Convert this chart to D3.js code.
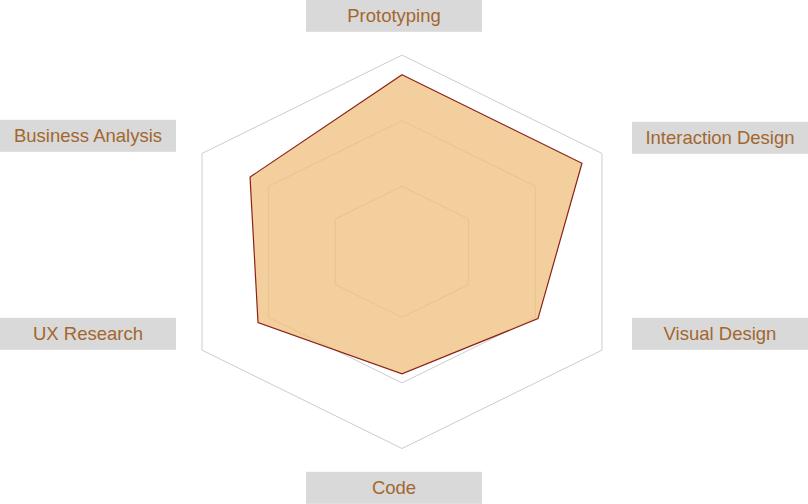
<!DOCTYPE html>
<html>
<head>
<meta charset="utf-8">
<script src="https://cdn.jsdelivr.net/npm/d3@7/dist/d3.min.js"></script>
<style>
  html, body { margin: 0; padding: 0; background: #fff; }
  svg { display: block; }
</style>
</head>
<body>
<svg id="chart" width="808" height="504"></svg>
<script>
// ---- data ----
const categories = ["Prototyping", "Interaction Design", "Visual Design", "Code", "UX Research", "Business Analysis"];
const values = [90, 90, 68, 62, 72, 76];
const maxValue = 100;
const ringLevels = [1/3, 2/3, 1];

// ---- layout ----
const W = 808, H = 504;
const cx = 402, cy = 251.8;
const ry = 196.7, rx = 230.9;
const svg = d3.select("#chart");

const r = d3.scaleLinear().domain([0, maxValue]).range([0, 1]);
const angle = d3.scaleLinear().domain([0, categories.length]).range([0, 2 * Math.PI]);

function pt(i, frac) {
  const a = angle(i);
  return [cx + rx * frac * Math.sin(a), cy - ry * frac * Math.cos(a)];
}
const line = d3.line().curve(d3.curveLinearClosed);

// grid rings
svg.append("g").selectAll("path").data(ringLevels).join("path")
  .attr("d", lv => line(categories.map((c, i) => pt(i, lv))))
  .attr("fill", "none")
  .attr("stroke", "#cccccc")
  .attr("stroke-width", 1);

// data polygon
svg.append("path")
  .attr("d", line(values.map((v, i) => pt(i, r(v)))))
  .attr("fill", "#f0c080")
  .attr("fill-opacity", 0.76)
  .attr("stroke", "#8b2218")
  .attr("stroke-width", 1.2)
  .attr("stroke-linejoin", "miter");

// labels
const boxW = 176, boxH = 32;
const lab = svg.append("g").selectAll("g").data(categories).join("g")
  .attr("transform", (c, i) => {
    const a = angle(i);
    const s = Math.sin(a), co = Math.cos(a);
    let x, y;
    if (Math.abs(s) < 1e-6) {
      x = cx - 8;
      y = cy - co * 236;
    } else {
      x = cx + 2 + Math.sign(s) * 316;
      y = cy - co * 198 - 17 + (s > 0 && co > 0 ? 2 : 0);
    }
    return `translate(${x},${y})`;
  });
lab.append("rect")
  .attr("x", -boxW / 2).attr("y", -boxH / 2)
  .attr("width", boxW).attr("height", boxH)
  .attr("fill", "#d9d9d9");
lab.append("text")
  .attr("text-anchor", "middle")
  .attr("dy", "0.36em")
  .attr("font-family", "'Liberation Sans', Arial, sans-serif")
  .attr("font-size", 18.5)
  .attr("fill", "#a2672f")
  .text(d => d);
</script>
</body>
</html>
